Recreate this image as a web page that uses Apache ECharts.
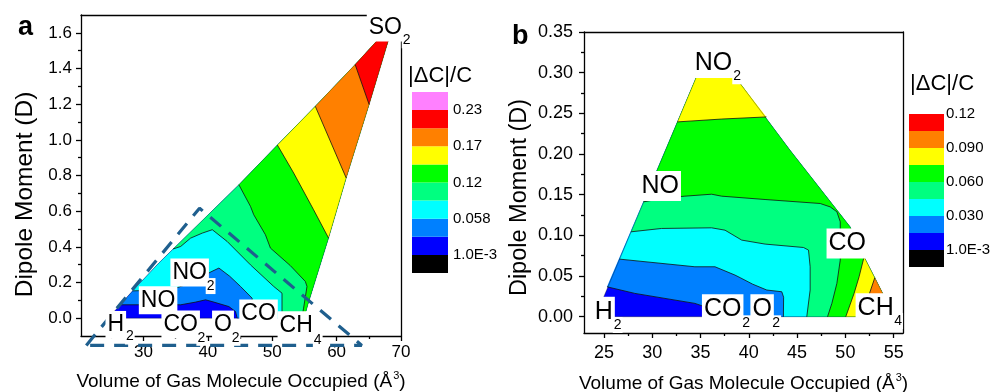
<!DOCTYPE html>
<html>
<head>
<meta charset="utf-8">
<script src="https://cdn.jsdelivr.net/npm/echarts@6.0.0/dist/echarts.min.js"></script>
<style>
  html, body { margin: 0; padding: 0; background: #fff; }
  #chart { width: 990px; height: 392px; }
</style>
</head>
<body>
<div id="chart"></div>
<script>
const FONT = '"Liberation Sans", Arial, sans-serif';

// ---------- panel a ----------
const levelsA = [0.001, 0.030, 0.058, 0.087, 0.116, 0.145, 0.174, 0.203, 0.232];
// outline of the sampled region (volume, dipole), clockwise from H2
const outlineA = [[24.4, 0], [25.7, 0.047], [28.3, 0.153], [32.4, 0.31], [44.82, 0.748], [50.8, 0.971],
  [56.69, 1.188], [62.88, 1.422], [66.3, 1.557], [68.04, 1.557], [65.05, 1.198], [61.49, 0.786],
  [58.75, 0.449], [55.6, 0.084], [54.95, 0]];
// iso lines, each from the low/right end towards the left edge
const isoA030 = [[44.56, 0], [44.3, 0.037], [43.27, 0.065], [40.94, 0.09], [39.65, 0.103], [38.1, 0.09], [35.78, 0.075], [26.4, 0.075]];
const isoA058 = [[46.88, 0], [46.88, 0.112], [45.07, 0.178], [43.4, 0.235], [41.72, 0.281], [40.5, 0.26], [37.5, 0.2], [34.4, 0.16], [28.3, 0.153]];
const isoA087 = [[51.52, 0], [51.52, 0.14], [50.23, 0.178], [46.62, 0.299], [43.0, 0.43], [40.69, 0.496], [39.14, 0.477], [37.33, 0.449], [35.78, 0.402], [34.6, 0.388]];
const isoA116 = [[54.6, 0], [54.87, 0.056], [55.4, 0.178], [55.14, 0.206], [52.8, 0.295], [49.72, 0.393], [48.94, 0.468], [47.13, 0.58], [46.62, 0.627], [44.82, 0.748]];
const isoA145 = [[58.75, 0.449], [56.42, 0.608], [53.33, 0.814], [50.8, 0.971]];
const isoA174 = [[61.49, 0.786], [56.69, 1.188]];
const isoA203 = [[65.05, 1.198], [62.88, 1.422]];

const xTicksA = [30, 40, 50, 60, 70];
const xMinorA = [25, 35, 45, 55, 65];
const yTicksA = [0, 0.2, 0.4, 0.6, 0.8, 1.0, 1.2, 1.4, 1.6];
const yMinorA = [0.1, 0.3, 0.5, 0.7, 0.9, 1.1, 1.3, 1.5];

// gas names: [volume, dipole, text, part]
const labelsA = [
  [24.57, -0.038, 'H', 'main'], [27.43, -0.103, '2', 'sub'],
  [29.75, 0.100, 'NO', 'main'],
  [34.65, 0.256, 'NO', 'main'], [39.98, 0.180, '2', 'sub'],
  [33.26, -0.036, 'CO', 'main'], [38.53, -0.110, '2', 'sub'],
  [41.12, -0.036, 'O', 'main'], [43.86, -0.110, '2', 'sub'],
  [45.35, 0.026, 'CO', 'main'],
  [51.30, -0.040, 'CH', 'main'], [56.62, -0.121, '4', 'sub'],
  [65.15, 1.630, 'SO', 'main'], [70.42, 1.558, '2', 'sub']
];
const dashA = [[21.12, -0.1527], [38.71, 0.6165], [63.91, -0.1527], [21.12, -0.1527]];

const cbTicksA = [1, 3, 5, 7, 9];
const cbLabelsA = ['1.0E-3', '0.058', '0.12', '0.17', '0.23'];

// ---------- panel b ----------
const levelsB = [0.001, 0.015, 0.030, 0.045, 0.060, 0.075, 0.090, 0.105, 0.120];
const outlineB = [[24.1, 0], [34.59, 0.2955], [38.54, 0.2955], [44.27, 0.2047], [50.49, 0.1105],
  [51.94, 0.0737], [53.79, 0.0307], [55.0, 0]];
const isoB015 = [[36.5, 0], [35.5, 0.012], [34.41, 0.0164], [28.18, 0.0287], [25.3, 0.0368]];
const isoB030 = [[43.58, 0], [43.6, 0.024], [43.41, 0.0307], [41.86, 0.0328], [40.4, 0.040], [39.1, 0.048], [38.56, 0.0512], [36.49, 0.0614], [34.41, 0.0614], [26.6, 0.0708]];
const isoB045 = [[46.0, 0], [46.35, 0.0328], [46.35, 0.0614], [46.18, 0.0819], [45.66, 0.0851], [41.68, 0.0893], [39.26, 0.0942], [37.53, 0.1064], [36.14, 0.1093], [30.95, 0.1085], [27.8, 0.1044]];
const isoB060 = [[48.15, 0], [48.6, 0.0164], [49.12, 0.041], [49.47, 0.0696], [49.47, 0.1167], [49.12, 0.129], [48.43, 0.135], [47.39, 0.1392], [41.68, 0.1441], [37.18, 0.1482], [36.14, 0.1506], [33.37, 0.1482], [30.95, 0.1453], [29.1, 0.1412]];
const isoB075top = [[41.82, 0.2456], [37.2, 0.243], [32.6, 0.2395]];
const isoB075ch4 = [[50.04, 0], [50.9, 0.0287], [51.42, 0.0491], [51.94, 0.0737]];
const isoB090 = [[52.2, 0], [52.5, 0.0287], [53.05, 0.048]];

const xTicksB = [25, 30, 35, 40, 45, 50, 55];
const xMinorB = [27.5, 32.5, 37.5, 42.5, 47.5, 52.5];
const yTicksB = [0, 0.05, 0.10, 0.15, 0.20, 0.25, 0.30, 0.35];
const yMinorB = [0.025, 0.075, 0.125, 0.175, 0.225, 0.275, 0.325];

const labelsB = [
  [24.14, 0.0061, 'H', 'main'], [26.11, -0.0102, '2', 'sub'],
  [34.49, 0.3118, 'NO', 'main'], [38.49, 0.2956, '2', 'sub'],
  [28.98, 0.1607, 'NO', 'main'],
  [35.45, 0.0092, 'CO', 'main'], [39.43, -0.0081, '2', 'sub'],
  [40.47, 0.0092, 'O', 'main'], [42.54, -0.0081, '2', 'sub'],
  [48.36, 0.0901, 'CO', 'main'],
  [51.37, 0.0103, 'CH', 'main'], [55.17, -0.0053, '4', 'sub']
];

const cbTicksB = [1, 3, 5, 7, 9];
const cbLabelsB = ['1.0E-3', '0.030', '0.060', '0.090', '0.12'];

// colour scale (Origin rainbow), lowest band first
const bandColorsA = ['#000000', '#0000ff', '#0080ff', '#00ffff', '#00ff80', '#00ff00', '#ffff00', '#ff8000', '#ff0000', '#ff80ff'];
const bandColorsB = ['#000000', '#0000ff', '#0080ff', '#00ffff', '#00ff80', '#00ff00', '#ffff00', '#ff8000', '#ff0000'];

const contoursA = [[0.030, isoA030], [0.058, isoA058], [0.087, isoA087], [0.116, isoA116],
  [0.145, isoA145], [0.174, isoA174], [0.203, isoA203]];
const contoursB = [[0.015, isoB015], [0.030, isoB030], [0.045, isoB045], [0.060, isoB060],
  [0.075, isoB075top], [0.075, isoB075ch4], [0.090, isoB090]];

// where a point falls on the outline, as segment index + fraction
function ringParam(ring, p) {
  let best = Infinity, bestT = 0;
  for (let i = 0; i < ring.length; i++) {
    const a = ring[i], b = ring[(i + 1) % ring.length];
    const dx = b[0] - a[0], dy = b[1] - a[1];
    const len2 = dx * dx + dy * dy || 1;
    let u = ((p[0] - a[0]) * dx + (p[1] - a[1]) * dy) / len2;
    u = Math.max(0, Math.min(1, u));
    const qx = a[0] + u * dx, qy = a[1] + u * dy;
    const d = (p[0] - qx) * (p[0] - qx) + (p[1] - qy) * (p[1] - qy);
    if (d < best) { best = d; bestT = i + u; }
  }
  return bestT;
}

// area on the high side of an iso line: the line, then the outline walked from its end back to its start
function highSide(ring, line) {
  const n = ring.length;
  const t0 = ringParam(ring, line[0]);
  const t1 = ringParam(ring, line[line.length - 1]);
  const span = (t0 - t1 + n) % n;
  const walk = [];
  for (let k = 0; k < n; k++) {
    const d = (k - t1 + n) % n;
    if (d > 0 && d < span) walk.push([d, ring[k]]);
  }
  walk.sort((a, b) => a[0] - b[0]);
  return line.concat(walk.map(w => w[1]));
}

function contourSeries(outline, contours, levels, colors) {
  return {
    type: 'custom',
    silent: true, z: 2,
    data: [[outline[0][0], outline[0][1]]],
    renderItem: function (params, api) {
      const ring = outline.map(p => api.coord(p));
      const kids = [{ type: 'polygon', shape: { points: ring }, style: { fill: colors[1] } }];
      contours.forEach(([lvl, pts]) => {
        const line = pts.map(p => api.coord(p));
        kids.push({ type: 'polygon', shape: { points: highSide(ring, line) },
          style: { fill: colors[levels.indexOf(lvl) + 1] } });
      });
      contours.forEach(([lvl, pts]) => {
        kids.push({ type: 'polyline', shape: { points: pts.map(p => api.coord(p)) },
          style: { fill: null, stroke: '#111', lineWidth: 0.8 } });
      });
      kids.push({ type: 'polygon', shape: { points: ring },
        style: { fill: null, stroke: 'rgba(0,0,0,0.45)', lineWidth: 0.7 } });
      return { type: 'group', children: kids };
    }
  };
}

function labelSeries(labels, mainSize, subSize) {
  return {
    type: 'custom',
    silent: true, z: 6,
    data: labels.map(d => [d[0], d[1]]),
    renderItem: function (params, api) {
      const d = labels[params.dataIndex];
      const p = api.coord([d[0], d[1]]);
      const sub = d[3] === 'sub';
      return {
        type: 'text', x: p[0] - (sub ? 2 : 3), y: p[1],
        style: {
          text: d[2], fontSize: sub ? subSize : mainSize, fontFamily: FONT, fill: '#000',
          align: 'left', verticalAlign: 'middle', backgroundColor: '#fff',
          padding: sub ? [1, 1, 1, 1] : [3, 2, 2, 2]
        }
      };
    }
  };
}

function colorbarSeries(colors) {
  return {
    type: 'custom',
    silent: true,
    data: colors.map((c, i) => [0, i]),
    renderItem: function (params, api) {
      const i = api.value(1);
      const a = api.coord([0, i + 1]), b = api.coord([1, i]);
      return { type: 'rect', shape: { x: a[0], y: a[1], width: b[0] - a[0], height: b[1] - a[1] },
        style: { fill: colors[i] } };
    }
  };
}

const lineStyle = { color: '#000', width: 1.3 };
const frameLine = { onZero: false, lineStyle };
const txt = { color: '#000', fontFamily: FONT };

function frameAxes(grid, xr, yr, xt, xm, yt, ym, o) {
  const xs = [
    { gridIndex: grid, type: 'value', min: xr[0], max: xr[1], position: 'bottom',
      axisLine: frameLine, splitLine: { show: false },
      axisTick: { customValues: xt, length: 5, lineStyle },
      axisLabel: Object.assign({ customValues: xt, fontSize: o.tickSize, margin: o.xMargin }, txt),
      name: '{t|Volume of Gas Molecule Occupied (Å}{s|3}{t|)}', nameLocation: 'middle', nameGap: o.xGap,
      nameTextStyle: { rich: { t: Object.assign({ fontSize: 19 }, txt), s: Object.assign({ fontSize: 11, padding: [0, 0, 12, 1] }, txt) } } },
    { gridIndex: grid, type: 'value', min: xr[0], max: xr[1], position: 'bottom',
      axisLine: { show: false, onZero: false }, splitLine: { show: false },
      axisTick: { customValues: xm, length: 3, lineStyle }, axisLabel: { show: false } },
    { gridIndex: grid, type: 'value', min: xr[0], max: xr[1], position: 'top',
      axisLine: frameLine, splitLine: { show: false }, axisTick: { show: false }, axisLabel: { show: false } }
  ];
  const ys = [
    { gridIndex: grid, type: 'value', min: yr[0], max: yr[1], position: 'left',
      axisLine: frameLine, splitLine: { show: false },
      axisTick: { customValues: yt, length: 5, lineStyle },
      axisLabel: Object.assign({ customValues: yt, fontSize: o.tickSize, margin: o.yMargin,
        formatter: v => v.toFixed(o.digits) }, txt),
      name: '{t|Dipole Moment (D)}{sp| }', nameLocation: 'middle', nameGap: o.yGap, nameRotate: 90,
      nameTextStyle: { rich: { t: Object.assign({ fontSize: o.ySize }, txt), sp: { width: o.yShift } } } },
    { gridIndex: grid, type: 'value', min: yr[0], max: yr[1], position: 'left',
      axisLine: { show: false, onZero: false }, splitLine: { show: false },
      axisTick: { customValues: ym, length: 3, lineStyle }, axisLabel: { show: false } },
    { gridIndex: grid, type: 'value', min: yr[0], max: yr[1], position: 'right',
      axisLine: frameLine, splitLine: { show: false }, axisTick: { show: false }, axisLabel: { show: false } }
  ];
  return { xs, ys };
}

const fa = frameAxes(0, [20.3, 70], [-0.1, 1.7], xTicksA, xMinorA, yTicksA, yMinorA,
  { tickSize: 17, xMargin: 8, yMargin: 9, xGap: 34, yGap: 43, ySize: 24.5, yShift: 38, digits: 1 });
const fb = frameAxes(1, [22.92, 55.97], [-0.02, 0.35], xTicksB, xMinorB, yTicksB, yMinorB,
  { tickSize: 18, xMargin: 11, yMargin: 11, xGap: 39, yGap: 52, ySize: 23.5, yShift: 30, digits: 2 });

function cbAxes(grid, n, ticks, labels, margin) {
  return {
    x: { gridIndex: grid, type: 'value', min: 0, max: 1, show: false },
    y: { gridIndex: grid, type: 'value', min: 0, max: n, position: 'right',
      axisLine: { show: false }, axisTick: { show: false }, splitLine: { show: false },
      axisLabel: Object.assign({ customValues: ticks, fontSize: 15, margin: margin,
        formatter: v => labels[ticks.indexOf(v)] }, txt) }
  };
}
const ca = cbAxes(2, bandColorsA.length, cbTicksA, cbLabelsA, 5);
const cb = cbAxes(3, bandColorsB.length, cbTicksB, cbLabelsB, 2);

// axis index order: a(0..2), b(3..5), bar a(6), bar b(7)
const xAxes = fa.xs.concat(fb.xs, [ca.x, cb.x]);
const yAxes = fa.ys.concat(fb.ys, [ca.y, cb.y]);

const on = idx => ({ xAxisIndex: idx, yAxisIndex: idx });

const option = {
  animation: false,
  backgroundColor: '#fff',
  title: [
    { text: 'a', left: 13, top: 9, textStyle: { fontSize: 27, fontWeight: 'bold', color: '#000', fontFamily: FONT } },
    { text: 'b', left: 507, top: 18, textStyle: { fontSize: 27, fontWeight: 'bold', color: '#000', fontFamily: FONT } },
    { text: '|ΔC|/C', left: 403, top: 60, textStyle: { fontSize: 22, fontWeight: 'normal', color: '#000', fontFamily: FONT } },
    { text: '|ΔC|/C', left: 905, top: 68, textStyle: { fontSize: 22, fontWeight: 'normal', color: '#000', fontFamily: FONT } }
  ],
  grid: [
    { left: 81, top: 15, width: 320, height: 321, outerBoundsMode: 'none' },
    { left: 584, top: 32, width: 319, height: 301, outerBoundsMode: 'none' },
    { left: 412, top: 92, width: 36, height: 181, outerBoundsMode: 'none' },
    { left: 909, top: 114, width: 35, height: 153, outerBoundsMode: 'none' }
  ],
  xAxis: xAxes,
  yAxis: yAxes,
  series: [
    Object.assign(contourSeries(outlineA, contoursA, levelsA, bandColorsA), on(0)),
    Object.assign(contourSeries(outlineB, contoursB, levelsB, bandColorsB), on(3)),
    Object.assign({
      type: 'line', data: dashA, clip: false, silent: true, z: 4,
      symbol: 'none', lineStyle: { color: '#1f5f8e', width: 3.2, type: [14, 10] }
    }, on(0)),
    Object.assign(labelSeries(labelsA, 23, 14), on(0)),
    Object.assign(labelSeries(labelsB, 25, 14), on(3)),
    Object.assign(colorbarSeries(bandColorsA), on(6)),
    Object.assign(colorbarSeries(bandColorsB), on(7))
  ]
};

echarts.init(document.getElementById('chart'), null, { renderer: 'canvas' }).setOption(option);
</script>
</body>
</html>
